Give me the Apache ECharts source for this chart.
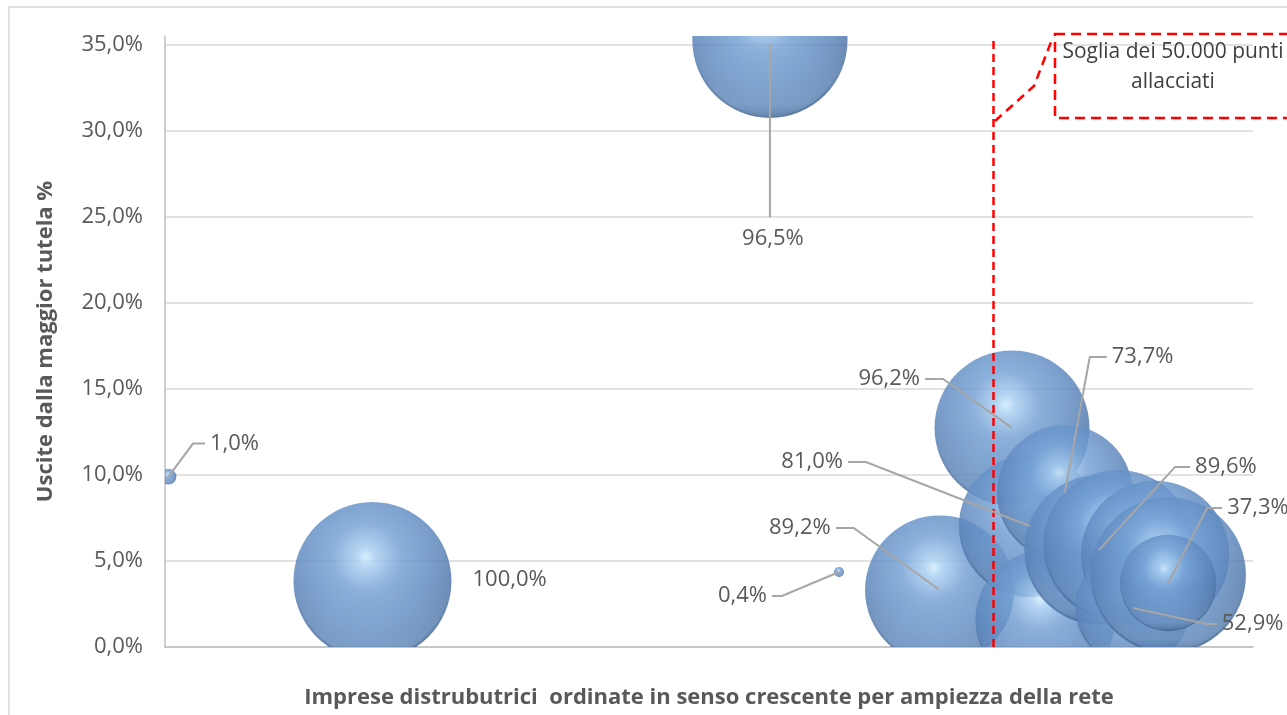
<!DOCTYPE html>
<html lang="it">
<head>
<meta charset="utf-8">
<title>Uscite dalla maggior tutela</title>
<script src="https://cdn.jsdelivr.net/npm/echarts@6/dist/echarts.min.js"></script>
<style>
  html, body { margin: 0; padding: 0; background: #ffffff; }
  #chart { width: 1287px; height: 715px; }
</style>
</head>
<body>
<div id="chart"></div>
<script>
// Posizione dell'impresa lungo l'asse (ordinate per ampiezza della rete)
const posizione = [0.32, 19.07, 55.6, 61.95, 71.2, 77.85, 79.5, 82.7, 80.9, 85.85, 87.6, 91.0, 88.95, 92.2, 92.2];
// Uscite dalla maggior tutela (%)
const usciteTutela = [9.9, 3.83, 35.25, 4.36, 3.31, 12.73, 7.03, 8.95, 1.57, 5.64, 5.93, 5.35, 2.27, 4.18, 3.72];
// Dimensione della bolla (%)
const dimensione = [1.0, 100.0, 96.5, 0.4, 89.2, 96.2, 81.0, 73.7, 78.0, 89.6, 90.0, 88.0, 52.9, 97.0, 37.3];
// Etichette mostrate accanto alle bolle (null = nessuna etichetta)
const etichette = ['1,0%', '100,0%', '96,5%', '0,4%', '89,2%', '96,2%', '81,0%', '73,7%', null, '89,6%', null, null, '52,9%', null, '37,3%'];
// Soglia dei 50.000 punti allacciati sull'asse delle imprese
const sogliaPunti = 76.1;
// Tacche dell'asse verticale
const yMin = 0, yMax = 35.5, yPasso = 5;

// Spostamento delle etichette rispetto al centro della bolla (pixel)
const layoutEtichette = {
  0:  { dx: 36.5, dy: -33, side: 'right', elbow: 12 },
  1:  { dx: 100, dy: -1, side: 'none' },
  2:  { dx: 0, dy: 177, side: 'bottom' },
  3:  { dx: -67, dy: 24, side: 'left', elbow: 10 },
  4:  { dx: -104, dy: -62, side: 'left', elbow: 18 },
  5:  { dx: -87, dy: -49, side: 'left', elbow: 18 },
  6:  { dx: -182, dy: -64, side: 'left', elbow: 18 },
  7:  { dx: 42, dy: -136, side: 'right', elbow: 17 },
  9:  { dx: 91, dy: -83, side: 'right', elbow: 15 },
  12: { dx: 84, dy: 16, side: 'right', elbow: 10 },
  14: { dx: 54, dy: -75, side: 'right', elbow: 15 }
};

const R_MAX = 79;          // raggio in pixel della bolla con dimensione 100
const FONT = '"Open Sans", "Noto Sans", sans-serif';
const GRIGIO_TESTO = '#595959';

const dati = posizione.map((x, i) => [x, usciteTutela[i], dimensione[i]]);

const chart = echarts.init(document.getElementById('chart'), null, { renderer: 'canvas' });

function sfera(cx, cy, r) {
  return {
    type: 'group',
    children: [
      {
        type: 'circle',
        shape: { cx, cy, r },
        style: {
          fill: new echarts.graphic.RadialGradient(0.46, 0.35, 0.72, [
            { offset: 0, color: '#d2ecfd' },
            { offset: 0.08, color: '#a9cff0' },
            { offset: 0.3, color: '#76a1d5' },
            { offset: 0.6, color: '#5f89bf' },
            { offset: 0.84, color: '#4c71a2' },
            { offset: 1, color: '#34527a' }
          ]),
          opacity: 0.84
        }
      },
      {
        type: 'circle',
        shape: { cx, cy, r: r * 0.97 },
        style: {
          fill: new echarts.graphic.LinearGradient(0, 0, 0, 1, [
            { offset: 0.55, color: 'rgba(160,198,238,0)' },
            { offset: 0.92, color: 'rgba(160,198,238,0.3)' },
            { offset: 1, color: 'rgba(160,198,238,0.1)' }
          ])
        }
      }
    ]
  };
}

const option = {
  animation: false,
  backgroundColor: '#ffffff',
  grid: { left: 165, right: 34, top: 36, bottom: 68, containLabel: false },
  xAxis: {
    type: 'value',
    min: 0,
    max: 100,
    axisLine: { show: true, lineStyle: { color: '#bfbfbf', width: 1.5 } },
    axisTick: { show: false },
    axisLabel: { show: false },
    splitLine: { show: false },
    name: 'Imprese distrubutrici  ordinate in senso crescente per ampiezza della rete',
    nameLocation: 'middle',
    nameGap: 40,
    nameTextStyle: { color: GRIGIO_TESTO, fontSize: 22, fontWeight: 'bold', fontFamily: FONT }
  },
  yAxis: {
    type: 'value',
    min: yMin,
    max: yMax,
    interval: yPasso,
    axisLine: { show: true, lineStyle: { color: '#bfbfbf', width: 1.5 } },
    axisTick: { show: false },
    axisLabel: {
      color: GRIGIO_TESTO,
      fontSize: 22,
      fontFamily: FONT,
      margin: 22,
      showMaxLabel: false,
      formatter: v => (Math.abs(v % yPasso) < 1e-9 ? v.toFixed(1).replace('.', ',') + '%' : '')
    },
    splitLine: { show: true, showMaxLine: false, lineStyle: { color: '#d9d9d9', width: 1.5 } },
    name: 'Uscite dalla maggior tutela %',
    nameLocation: 'middle',
    nameRotate: 90,
    nameGap: 108,
    nameTextStyle: { color: GRIGIO_TESTO, fontSize: 22, fontWeight: 'bold', fontFamily: FONT }
  },
  series: [
    {
      name: 'Imprese',
      type: 'custom',
      clip: true,
      data: dati,
      z: 2,
      renderItem(params, api) {
        const c = api.coord([api.value(0), api.value(1)]);
        const r = R_MAX * Math.sqrt(api.value(2) / 100);
        return sfera(c[0], c[1], r);
      },
      markLine: {
        silent: true,
        symbol: ['none', 'none'],
        label: { show: false },
        lineStyle: { color: '#ff0000', width: 2.5, type: [8, 5] },
        data: [{ xAxis: sogliaPunti }]
      }
    },
    {
      name: 'Etichette',
      type: 'custom',
      clip: false,
      data: dati,
      z: 5,
      renderItem(params, api) {
        const i = params.dataIndex;
        const testo = etichette[i];
        const lay = layoutEtichette[i];
        if (!testo || !lay) return { type: 'group', children: [] };
        const c = api.coord([api.value(0), api.value(1)]);
        const ax = c[0] + lay.dx, ay = c[1] + lay.dy;
        const stileLinea = { stroke: '#a6a6a6', lineWidth: 2, fill: null };
        const stileTesto = { fill: GRIGIO_TESTO, fontSize: 22, fontFamily: FONT, text: testo, verticalAlign: 'middle' };
        const figli = [];
        if (lay.side === 'right') {
          figli.push({ type: 'polyline', shape: { points: [c, [ax - lay.elbow, ay], [ax, ay]] }, style: stileLinea });
          figli.push({ type: 'text', x: ax + 5, y: ay, style: Object.assign({ align: 'left' }, stileTesto) });
        } else if (lay.side === 'left') {
          figli.push({ type: 'polyline', shape: { points: [c, [ax + lay.elbow, ay], [ax, ay]] }, style: stileLinea });
          figli.push({ type: 'text', x: ax - 5, y: ay, style: Object.assign({ align: 'right' }, stileTesto) });
        } else if (lay.side === 'bottom') {
          figli.push({ type: 'polyline', shape: { points: [[c[0], Math.max(c[1], 44)], [ax, ay]] }, style: stileLinea });
          figli.push({ type: 'text', x: ax + 3, y: ay + 21, style: Object.assign({ align: 'center' }, stileTesto) });
        } else {
          figli.push({ type: 'text', x: ax, y: ay, style: Object.assign({ align: 'left' }, stileTesto) });
        }
        return { type: 'group', children: figli };
      }
    }
  ],
  graphic: [
    // cornice dell'area del grafico
    {
      type: 'rect',
      shape: { x: 9, y: 7, width: 1400, height: 800 },
      style: { fill: null, stroke: '#d9d9d9', lineWidth: 1.5 },
      silent: true, z: 0
    },
    // richiamo della soglia
    {
      type: 'polyline',
      shape: { points: [[995, 121], [1034, 86], [1053, 37]] },
      style: { fill: null, stroke: '#ff0000', lineWidth: 2.5, lineDash: [9, 6] },
      silent: true, z: 10
    },
    {
      type: 'rect',
      shape: { x: 1055, y: 34, width: 245, height: 84 },
      style: { fill: null, stroke: '#ff0000', lineWidth: 2.5, lineDash: [10, 6] },
      silent: true, z: 10
    },
    {
      type: 'text',
      x: 1173, y: 67,
      style: {
        text: 'Soglia dei 50.000 punti\nallacciati',
        align: 'center', verticalAlign: 'middle',
        fill: '#3f3f3f', fontSize: 21, fontFamily: FONT, lineHeight: 30
      },
      silent: true, z: 10
    }
  ]
};

chart.setOption(option);
</script>
</body>
</html>
